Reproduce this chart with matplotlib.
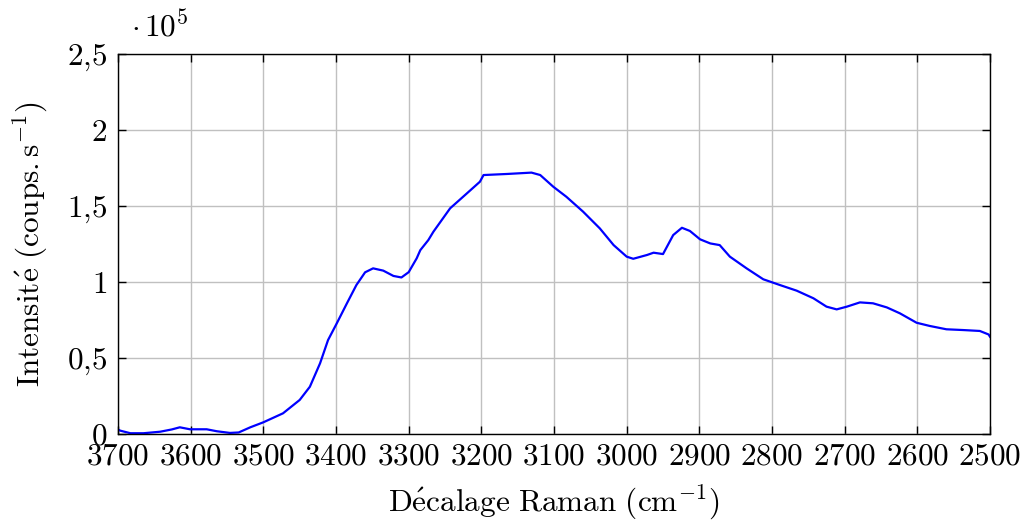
import matplotlib
matplotlib.use("Agg")
import matplotlib.pyplot as plt

plt.rcParams["mathtext.fontset"] = "cm"
plt.rcParams["font.family"] = "serif"
plt.rcParams["font.serif"] = ["cmr10", "DejaVu Serif"]
plt.rcParams["axes.formatter.use_mathtext"] = True

# Raman shift (cm^-1) and intensity (x 1e5 counts/s)
shift = [3700, 3697, 3683, 3665, 3642, 3626, 3615, 3601, 3578, 3564, 3546,
         3534, 3518, 3500, 3473, 3450, 3436, 3422, 3411, 3399, 3385, 3372,
         3360, 3349, 3335, 3321, 3310, 3300, 3289, 3284, 3273, 3266, 3243,
         3220, 3202, 3197, 3165, 3131, 3119, 3101, 3083, 3060, 3037, 3018,
         3000, 2991, 2972, 2963, 2950, 2936, 2924, 2913, 2899, 2885, 2872,
         2858, 2835, 2812, 2789, 2766, 2743, 2725, 2711, 2697, 2679, 2661,
         2642, 2624, 2601, 2583, 2560, 2537, 2514, 2502, 2500]
intensity = [0.03, 0.022, 0.005, 0.005, 0.015, 0.03, 0.044, 0.031, 0.031, 0.018, 0.007,
             0.01, 0.044, 0.077, 0.136, 0.224, 0.311, 0.465, 0.618, 0.728, 0.86, 0.98,
             1.064, 1.09, 1.075, 1.04, 1.03, 1.065, 1.156, 1.21, 1.276, 1.331, 1.485,
             1.583, 1.66, 1.704, 1.711, 1.72, 1.704, 1.627, 1.561, 1.463, 1.353, 1.243,
             1.167, 1.153, 1.178, 1.193, 1.184, 1.309, 1.357, 1.336, 1.281, 1.254, 1.243,
             1.167, 1.09, 1.018, 0.98, 0.943, 0.893, 0.838, 0.82, 0.838, 0.866, 0.86,
             0.833, 0.794, 0.732, 0.711, 0.689, 0.684, 0.678, 0.655, 0.64]

xticks = [3700, 3600, 3500, 3400, 3300, 3200, 3100, 3000, 2900, 2800, 2700, 2600, 2500]
yticks = [0, 0.5, 1, 1.5, 2, 2.5]
ytick_labels = ["$0$", "$0{,}5$", "$1$", "$1{,}5$", "$2$", "$2{,}5$"]

fig = plt.figure(figsize=(10.22, 5.2), dpi=100)
ax = fig.add_axes([0.1155, 0.1654, 0.8532, 0.7306])

ax.plot(shift, intensity, color="#0000ff", linewidth=1.6)

ax.set_xlim(3700, 2500)
ax.set_ylim(0, 2.5)
ax.set_xticks(xticks)
ax.set_xticklabels([f"${t}$" for t in xticks])
ax.set_yticks(yticks)
ax.set_yticklabels(ytick_labels)
ax.grid(True, color="#c0c0c0", linewidth=1)
ax.set_axisbelow(True)
ax.tick_params(direction="in", top=True, right=True, length=6, width=1,
               labelsize=22.5)
ax.tick_params(axis="x", pad=6)
ax.tick_params(axis="y", pad=8)
for s in ax.spines.values():
    s.set_linewidth(1)

ax.set_xlabel(r"$\mathrm{D\acute{e}calage\ Raman\ (cm^{-1})}$", fontsize=22.5, labelpad=9)
ax.set_ylabel(r"$\mathrm{Intensit\acute{e}\ (coups{.}s^{-1})}$", fontsize=22.5, labelpad=12)
ax.text(0.015, 1.03, r"$\cdot\,10^{5}$", transform=ax.transAxes, fontsize=22.5,
        ha="left", va="bottom")

fig.savefig("out.png", dpi=100)
